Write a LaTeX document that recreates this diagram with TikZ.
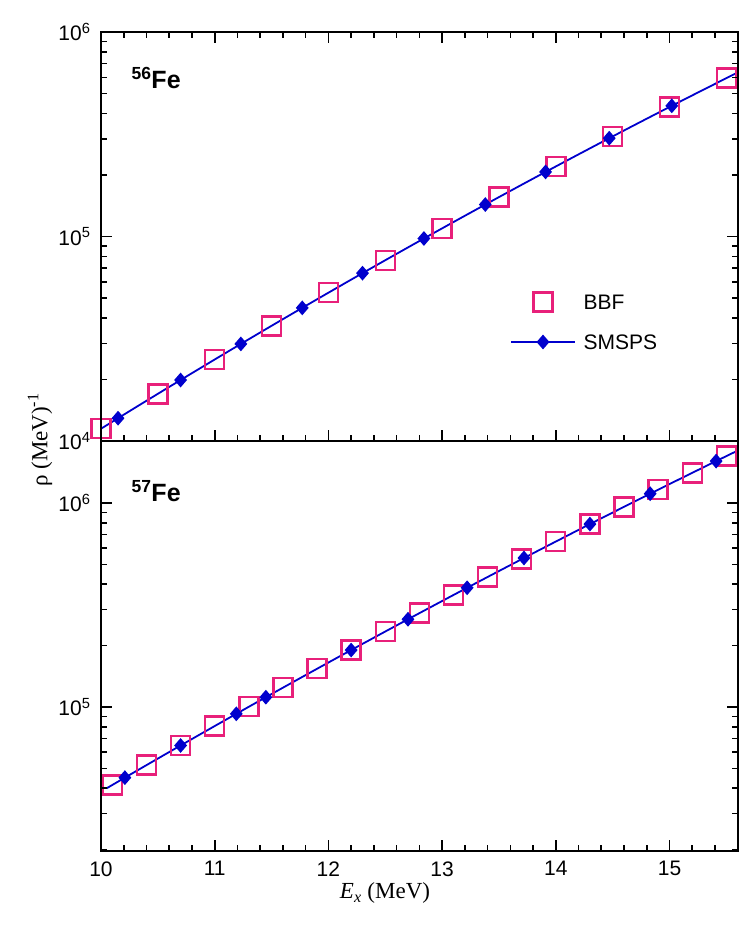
\documentclass[tikz,border=0pt]{standalone}
\usepackage{fontspec}
\setmainfont{Liberation Serif}
\setsansfont{Liberation Sans}
\usetikzlibrary{shapes.geometric}
\definecolor{bbf}{RGB}{232,32,122}
\definecolor{sms}{RGB}{0,0,205}
\tikzset{
  sq/.style={draw=bbf,line width=2.4pt,minimum size=19pt,inner sep=0pt},
  dia/.style={diamond,fill=sms,inner sep=0pt,minimum width=13pt,minimum height=15pt},
  curve/.style={sms,line width=1.8pt},
  tick/.style={line width=1.6pt},
  lab/.style={font=\sffamily\fontsize{21}{21}\selectfont}
}
\pgfmathdeclarefunction{fT}{1}{\pgfmathparse{4.06+0.3445*(#1-10)-0.00596*(#1-10)^2}}
\pgfmathdeclarefunction{fB}{1}{\pgfmathparse{4.618+0.3252*(#1-10.1)-0.00494*(#1-10.1)^2}}
\newcommand{\XX}[1]{101+(#1-10)*113.7}
\begin{document}
\begin{tikzpicture}[x=1pt,y=-1pt]
\useasboundingbox (0,0) rectangle (747,929);
% curves
\draw[curve] plot[domain=10:15.6,samples=60] ({\XX{\x}},{441-(fT(\x)-4)*204.5});
\draw[curve] plot[domain=10.05:15.6,samples=60] ({\XX{\x}},{707-(fB(\x)-5)*204});
% top markers
\foreach \e [count=\i] in {10,10.5,...,15.5}
  \node[sq] (t\i) at ({\XX{\e}},{441-(fT(\e)-4)*204.5}) {};
\foreach \e [count=\i] in {10.15,10.70,11.23,11.77,12.30,12.84,13.38,13.91,14.47,15.02}
  \node[dia] (d\i) at ({\XX{\e}},{441-(fT(\e)-4)*204.5}) {};
% bottom markers
\foreach \e [count=\i] in {10.1,10.4,...,15.5}
  \node[sq] (b\i) at ({\XX{\e}},{707-(fB(\e)-5)*204}) {};
\foreach \e [count=\i] in {10.21,10.70,11.19,11.45,12.2,12.7,13.22,13.72,14.3,14.83,15.41}
  \node[dia] (e\i) at ({\XX{\e}},{707-(fB(\e)-5)*204}) {};
% frame
\draw[line width=2pt] (101,32) rectangle (738,851);
\draw[line width=2pt] (101,441) -- (738,441);
% x ticks
\foreach \e in {10,10.2,...,15.6}{
  \draw[tick] ({\XX{\e}},851) -- ++(0,-6);
  \draw[tick] ({\XX{\e}},441) -- ++(0,-6);
  \draw[tick] ({\XX{\e}},32) -- ++(0,6);}
\foreach \e in {10,...,15}{
  \draw[tick] ({\XX{\e}},851) -- ++(0,-11);
  \draw[tick] ({\XX{\e}},441) -- ++(0,-11);
  \draw[tick] ({\XX{\e}},32) -- ++(0,11);
  \node[lab,anchor=north] (xl\e) at ({\XX{\e}},858) {\e};}
% y ticks top
\foreach \d in {4,5}{
  \foreach \k in {2,...,9}{
    \draw[tick] (101,{441-(\d+log10(\k)-4)*204.5}) -- ++(6,0);
    \draw[tick] (738,{441-(\d+log10(\k)-4)*204.5}) -- ++(-6,0);}}
\foreach \d/\yy in {4/441,5/236.5,6/32}{
  \draw[tick] (101,\yy) -- ++(11,0);
  \draw[tick] (738,\yy) -- ++(-11,0);
  \node[lab,anchor=east] (yt\d) at (94,\yy) {10\textsuperscript{\d}};}
% y ticks bottom
\foreach \d in {4,5}{
  \foreach \k in {2,...,9}{
    \pgfmathsetmacro{\yy}{707-(\d+log10(\k)-5)*204}
    \ifdim\yy pt<851pt
    \draw[tick] (101,\yy) -- ++(6,0);
    \draw[tick] (738,\yy) -- ++(-6,0);\fi}}
\foreach \d/\yy in {5/707,6/503}{
  \draw[tick] (101,\yy) -- ++(11,0);
  \draw[tick] (738,\yy) -- ++(-11,0);
  \node[lab,anchor=east] (yb\d) at (94,\yy) {10\textsuperscript{\d}};}
% panel labels
\node[font=\sffamily\bfseries\fontsize{25}{25}\selectfont,anchor=west] (fe56) at (128,78) {\textsuperscript{56}Fe};
\node[font=\sffamily\bfseries\fontsize{25}{25}\selectfont,anchor=west] (fe57) at (128,491) {\textsuperscript{57}Fe};
% legend
\node[sq] (lsq) at (543,302) {};
\node[lab,anchor=west] (lbbf) at (580,302) {BBF};
\coordinate (la) at (511,342);
\coordinate (lb) at (575,342);
\draw[sms,line width=1.4pt] (la) -- (lb);
\node[dia] (ldia) at (543,342) {};
\node[lab,anchor=west] (lsms) at (580,342) {SMSPS};
% axis labels
\node[font=\fontsize{23}{23}\selectfont] (xlab) at (385,893) {\textit{E}\textsubscript{\textit{x}} (MeV)};
\node[font=\fontsize{23}{23}\selectfont,rotate=90] (ylab) at (40,440) {ρ (MeV)\textsuperscript{-1}};
\end{tikzpicture}
\end{document}
